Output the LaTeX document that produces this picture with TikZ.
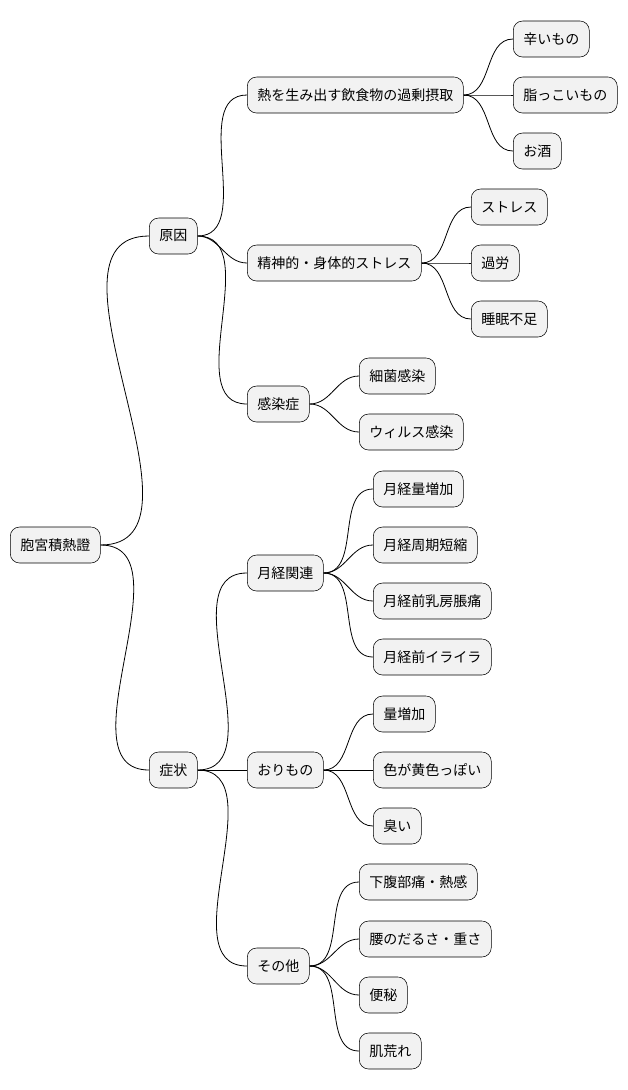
\documentclass[tikz,border=0pt]{standalone}
\usepackage{fontspec}
\setmainfont{Noto Sans CJK JP}
\usetikzlibrary{positioning}
\tikzstyle{topic} = [rectangle, rounded corners=7pt, draw=black, fill=gray!10, minimum height=27pt, inner xsep=7.5pt, anchor=west, font=\fontsize{10.5}{12}\selectfont]
\tikzstyle{branch} = [draw=black, line width=0.6pt]

\begin{document}
\begin{tikzpicture}[x=0.75pt, y=-0.75pt]
        \useasboundingbox (0,0) rectangle (628,1090);
        \node (root) [topic] at (10,545) {胞宮積熱證};
        % causes
        \node (cause) [topic] at (149,236) {原因};
        \node (food) [topic] at (247,95) {熱を生み出す飲食物の過剰摂取};
        \node (spicy) [topic] at (513,39) {辛いもの};
        \node (fatty) [topic] at (513,95) {脂っこいもの};
        \node (sake) [topic] at (513,151) {お酒};
        \node (stress) [topic] at (247,263) {精神的・身体的ストレス};
        \node (str) [topic] at (471,207) {ストレス};
        \node (work) [topic] at (471,263) {過労};
        \node (sleep) [topic] at (471,319) {睡眠不足};
        \node (infect) [topic] at (247,404) {感染症};
        \node (bact) [topic] at (359,376) {細菌感染};
        \node (virus) [topic] at (359,432) {ウィルス感染};
        % symptoms
        \node (symp) [topic] at (149,770) {症状};
        \node (mens) [topic] at (247,573) {月経関連};
        \node (m1) [topic] at (373,489) {月経量増加};
        \node (m2) [topic] at (373,545) {月経周期短縮};
        \node (m3) [topic] at (373,601) {月経前乳房脹痛};
        \node (m4) [topic] at (373,657) {月経前イライラ};
        \node (disc) [topic] at (247,770) {おりもの};
        \node (d1) [topic] at (373,714) {量増加};
        \node (d2) [topic] at (373,770) {色が黄色っぽい};
        \node (d3) [topic] at (373,826) {臭い};
        \node (other) [topic] at (247,966) {その他};
        \node (o1) [topic] at (359,882) {下腹部痛・熱感};
        \node (o2) [topic] at (359,939) {腰のだるさ・重さ};
        \node (o3) [topic] at (359,995) {便秘};
        \node (o4) [topic] at (359,1051) {肌荒れ};

        \foreach \a/\b in {root/cause, root/symp, cause/food, cause/stress, cause/infect,
            food/spicy, food/fatty, food/sake, stress/str, stress/work, stress/sleep,
            infect/bact, infect/virus, symp/mens, symp/disc, symp/other,
            mens/m1, mens/m2, mens/m3, mens/m4, disc/d1, disc/d2, disc/d3,
            other/o1, other/o2, other/o3, other/o4}
            \draw[branch] (\a.east) to[out=0, in=180] (\b.west);
    \end{tikzpicture}
\end{document}
